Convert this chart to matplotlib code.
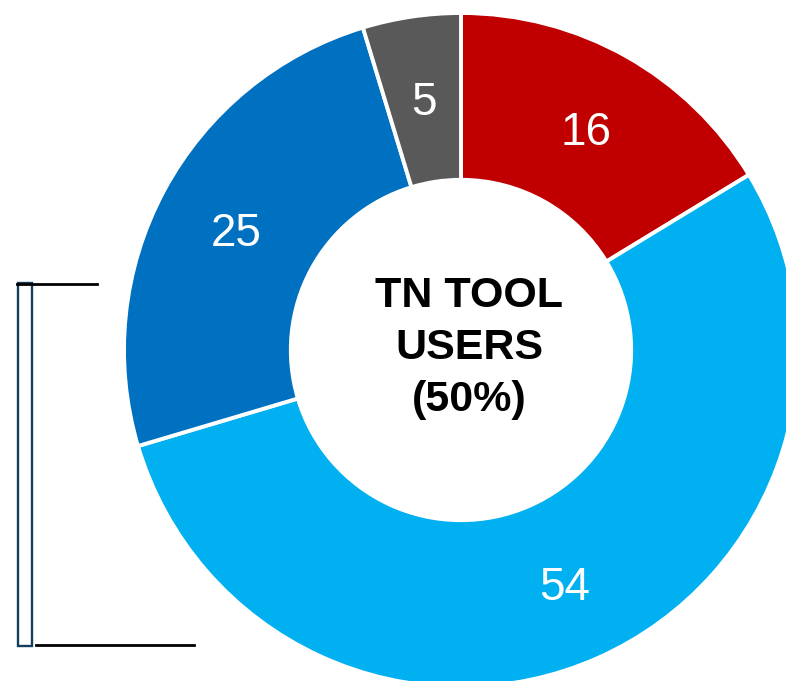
import matplotlib
matplotlib.use("Agg")
import matplotlib.pyplot as plt
from matplotlib.patches import Rectangle

# Data
categories = ["Segment A", "Segment B", "Segment C", "Segment D"]
values = [16.3, 54.1, 24.9, 4.7]
colors = ["#C00000", "#00B0F0", "#0070C0", "#595959"]
center_label = "TN TOOL\nUSERS\n(50%)"

W, H = 786, 681
fig = plt.figure(figsize=(W / 100, H / 100), dpi=100)
ax = fig.add_axes([0, 0, 1, 1])

cx, cy = 461, H - 350
R = 337
wedges, texts, autotexts = ax.pie(
    values,
    colors=colors,
    startangle=90,
    counterclock=False,
    center=(cx, cy),
    radius=R,
    autopct=lambda p: f"{p:.0f}",
    pctdistance=0.757,
    wedgeprops=dict(width=R * 0.495, edgecolor="white", linewidth=2.8),
    textprops=dict(color="white", fontsize=33, family="Liberation Sans"),
    frame=True,
)
for t in autotexts:
    x, y = t.get_position()
    t.set_position((x, y - 5))

ax.set_xlim(0, W)
ax.set_ylim(0, H)
ax.set_aspect("auto")
ax.axis("off")

ax.text(cx + 8, cy + 2, center_label, ha="center", va="center", fontsize=31,
        fontweight="bold", family="Liberation Sans", color="black",
        linespacing=1.38)

# Bracket on the left
ax.add_patch(Rectangle((17.5, H - 645.5), 14, 362.5, fill=False,
                       edgecolor="#123F5E", linewidth=1.7))
ax.plot([17, 97], [H - 284, H - 284], color="black", linewidth=2)
ax.plot([36, 194], [H - 645, H - 645], color="black", linewidth=2)

fig.savefig("out.png", dpi=100)
